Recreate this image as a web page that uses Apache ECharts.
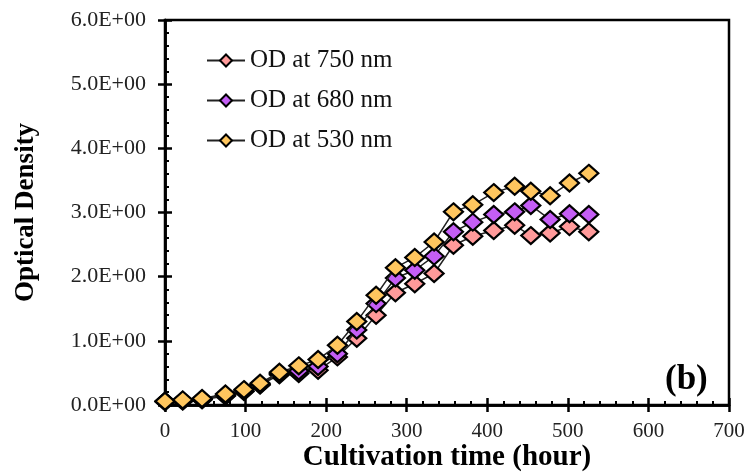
<!DOCTYPE html>
<html>
<head>
<meta charset="utf-8">
<script src="https://cdn.jsdelivr.net/npm/echarts@6/dist/echarts.min.js"></script>
<style>html,body{margin:0;padding:0;background:#fff;}#c{width:749px;height:472px;}</style>
</head>
<body>
<div id="c"></div>
<script>
const hours = [0, 22, 46, 75, 98, 118, 142, 166, 190, 214, 238, 262, 286, 310, 334, 358, 382, 408, 434, 454, 478, 502, 526];
const od750 = [0.05, 0.06, 0.08, 0.14, 0.21, 0.31, 0.47, 0.49, 0.54, 0.75, 1.04, 1.40, 1.75, 1.89, 2.05, 2.49, 2.63, 2.72, 2.80, 2.64, 2.68, 2.78, 2.70];
const od680 = [0.06, 0.07, 0.09, 0.15, 0.22, 0.32, 0.49, 0.53, 0.60, 0.80, 1.17, 1.58, 1.98, 2.10, 2.32, 2.70, 2.85, 2.97, 3.01, 3.11, 2.89, 2.98, 2.97];
const od530 = [0.06, 0.08, 0.10, 0.17, 0.24, 0.34, 0.51, 0.61, 0.71, 0.93, 1.30, 1.71, 2.14, 2.30, 2.54, 3.01, 3.12, 3.31, 3.41, 3.33, 3.26, 3.46, 3.61];
const seriesNames = ['OD at 750 nm', 'OD at 680 nm', 'OD at 530 nm'];
const xTitle = 'Cultivation time (hour)';
const yTitle = 'Optical Density';
const panelLabel = '(b)';

function sci(v) {
  const s = Number(v).toExponential(1).split('e');
  let e = parseInt(s[1], 10);
  const sign = e < 0 ? '-' : '+';
  e = Math.abs(e);
  return s[0] + 'E' + sign + (e < 10 ? '0' + e : '' + e);
}

const colors = ['#FF9A9A', '#C45EF5', '#FFC65E'];
const serif = '"Liberation Serif", "Times New Roman", serif';

function mk(name, arr, i) {
  return {
    name: name, type: 'line',
    data: hours.map((h, k) => [h, arr[k]]),
    symbol: 'diamond', symbolSize: [19, 17],
    itemStyle: { color: colors[i], borderColor: '#000', borderWidth: 2.2 },
    lineStyle: { color: '#222', width: 1.5 },
    emphasis: { disabled: true },
    animation: false,
    z: 3 + i
  };
}

const chart = echarts.init(document.getElementById('c'), null, { renderer: 'canvas' });
const baseX = { type: 'value', min: 0, max: 700, interval: 100 };
const baseY = { type: 'value', min: 0, max: 6, interval: 1 };
chart.setOption({
  animation: false,
  backgroundColor: '#fff',
  grid: { left: 165, right: 20, top: 20, bottom: 67, show: true, borderColor: '#000', borderWidth: 2.5, containLabel: false, outerBoundsMode: 'none' },
  legend: {
    orient: 'vertical', left: 201, top: 43, itemGap: 15,
    itemWidth: 38, itemHeight: 15,
    textStyle: { fontFamily: serif, fontSize: 25, color: '#111' },
    data: seriesNames
  },
  xAxis: [
    Object.assign({}, baseX, {
      name: xTitle, nameLocation: 'middle', nameGap: 38, nameMoveOverlap: false,
      nameTextStyle: { fontFamily: serif, fontSize: 29, fontWeight: 'bold', color: '#000' },
      axisLine: { show: true, lineStyle: { color: '#000', width: 2.5 } },
      axisTick: { show: true, inside: false, length: 7, lineStyle: { color: '#000', width: 2.5 } },
      axisLabel: { fontFamily: serif, fontSize: 21, color: '#222', margin: 16 },
      splitLine: { show: false }
    }),
    Object.assign({}, baseX, {
      position: 'bottom',
      axisLine: { show: true, lineStyle: { color: '#000', width: 2.5 } },
      axisTick: { show: true, inside: true, length: 7, lineStyle: { color: '#000', width: 2.5 } },
      minorTick: { show: true, splitNumber: 5, length: 4, lineStyle: { color: '#000', width: 2 } },
      axisLabel: { show: false },
      splitLine: { show: false }
    })
  ],
  yAxis: [
    Object.assign({}, baseY, {
      name: yTitle, nameLocation: 'middle', nameGap: 125, nameRotate: 90, nameMoveOverlap: false,
      nameTextStyle: { fontFamily: serif, fontSize: 27, fontWeight: 'bold', color: '#000' },
      axisLine: { show: true, lineStyle: { color: '#000', width: 2.5 } },
      axisTick: { show: true, inside: false, length: 7, lineStyle: { color: '#000', width: 2.5 } },
      axisLabel: { fontFamily: serif, fontSize: 22, color: '#222', margin: 19, formatter: sci },
      splitLine: { show: false }
    }),
    Object.assign({}, baseY, {
      position: 'left',
      axisLine: { show: true, lineStyle: { color: '#000', width: 2.5 } },
      axisTick: { show: true, inside: true, length: 7, lineStyle: { color: '#000', width: 2.5 } },
      minorTick: { show: true, splitNumber: 5, length: 4, lineStyle: { color: '#000', width: 2 } },
      axisLabel: { show: false },
      splitLine: { show: false }
    })
  ],
  graphic: [{
    type: 'text', left: 665, top: 362, z: 10,
    style: { text: panelLabel, font: 'bold 35px ' + serif, fill: '#000' }
  }],
  series: [mk(seriesNames[0], od750, 0), mk(seriesNames[1], od680, 1), mk(seriesNames[2], od530, 2)]
});
</script>
</body>
</html>
